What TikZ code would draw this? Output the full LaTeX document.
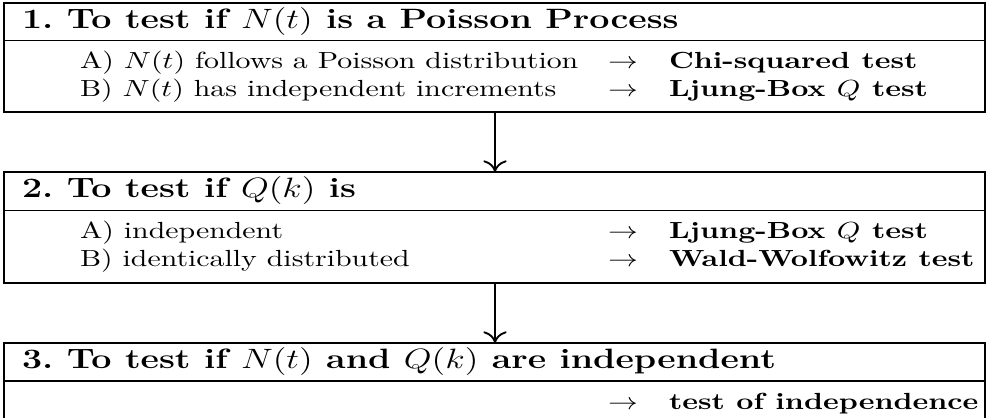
\documentclass[tikz,border=0pt]{standalone}
\usepackage{graphicx}
\usetikzlibrary{arrows.meta}

% text set a little wider than its natural width
\newcommand{\wide}[1]{\scalebox{1.28}[1]{#1}}

\begin{document}
\begin{tikzpicture}[x=0.429pt, y=-0.429pt,
  frame/.style={line width=0.65pt},
  txt/.style={anchor=base west, inner sep=0pt, outer sep=0pt},
  head/.style={txt, font=\large\bfseries},
  flow/.style={line width=0.8pt, -{To[length=5pt, width=10pt]}}]
\useasboundingbox (0,0) rectangle (987,417);

% ---- block 1 ----
\draw[frame] (4,3) rectangle (985,112);
\draw[frame] (4,40.5) -- (985,40.5);
\node[head] (h1) at (22,28) {\wide{1.\ To test if $N(t)$ is a Poisson Process}};
\node[txt] (a1) at (80,68) {\wide{A) $N(t)$ follows a Poisson distribution}};
\node[txt] (a1r) at (608,68) {\wide{$\rightarrow$}};
\node[txt] (a1t) at (669,68) {\wide{\bfseries Chi-squared test}};
\node[txt] (b1) at (80,96) {\wide{B) $N(t)$ has independent increments}};
\node[txt] (b1r) at (608,96) {\wide{$\rightarrow$}};
\node[txt] (b1t) at (669,96) {\wide{\bfseries Ljung-Box $Q$ test}};
\coordinate (s1) at (495,112);

% ---- block 2 ----
\coordinate (n2) at (495,172);
\draw[frame] (4,172) rectangle (985,283);
\draw[frame] (4,210.5) -- (985,210.5);
\node[head] (h2) at (22,197) {\wide{2.\ To test if $Q(k)$ is}};
\node[txt] (a2) at (80,238) {\wide{A) independent}};
\node[txt] (a2r) at (608,238) {\wide{$\rightarrow$}};
\node[txt] (a2t) at (669,238) {\wide{\bfseries Ljung-Box $Q$ test}};
\node[txt] (b2) at (80,266) {\wide{B) identically distributed}};
\node[txt] (b2r) at (608,266) {\wide{$\rightarrow$}};
\node[txt] (b2t) at (669,266) {\wide{\bfseries Wald-Wolfowitz test}};
\coordinate (s2) at (495,283);

% ---- block 3 ----
\coordinate (n3) at (495,343);
\draw[frame] (4,420) -- (4,343) -- (985,343) -- (985,420);
\draw[frame] (4,381) -- (985,381);
\node[head] (h3) at (22,368) {\wide{3.\ To test if $N(t)$ and $Q(k)$ are independent}};
\node[txt] (a3r) at (608,409) {\wide{$\rightarrow$}};
\node[txt] (a3t) at (669,409) {\wide{\bfseries test of independence}};

% ---- connectors ----
\draw[flow] (s1) -- (n2);
\draw[flow] (s2) -- (n3);
\end{tikzpicture}
\end{document}
